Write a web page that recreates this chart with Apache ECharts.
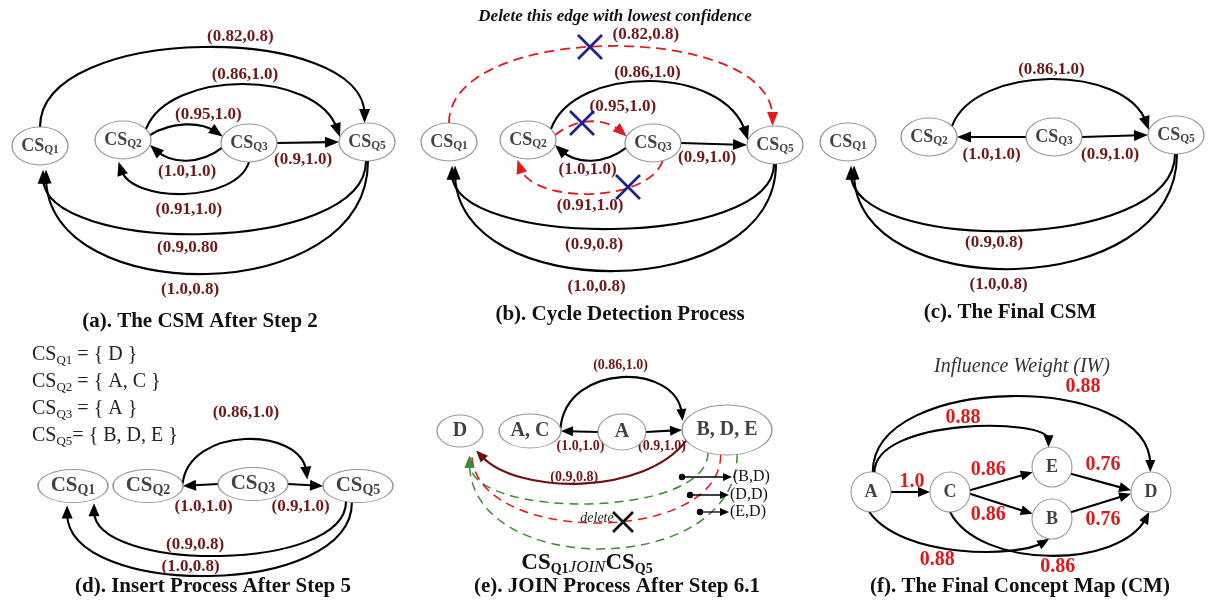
<!DOCTYPE html>
<html><head><meta charset="utf-8">
<script src="https://cdn.jsdelivr.net/npm/echarts@6/dist/echarts.min.js"></script>
<style>html,body{margin:0;padding:0;background:#fff}#c{width:1208px;height:602px}</style>
</head><body><div id="c"></div>
<script>
// ================= DATA =================
// nodes: [id, label, x, y]  (diagram units = hidden axis units)
const nodesA = [['a.Q1','Q1',40,146],['a.Q2','Q2',123,140],['a.Q3','Q3',249,143],['a.Q5','Q5',367,142]];
const nodesB = [['b.Q1','Q1',449,142],['b.Q2','Q2',528,140],['b.Q3','Q3',653,143],['b.Q5','Q5',775,145]];
const nodesC = [['c.Q1','Q1',848,142],['c.Q2','Q2',929,137],['c.Q3','Q3',1054,137],['c.Q5','Q5',1176,135]];
const nodesD = [['d.Q1','Q1',73,486],['d.Q2','Q2',148,486],['d.Q3','Q3',253,484],['d.Q5','Q5',358,486]];
const nodesE = [['e.D','D',460,431],['e.AC','A, C',530,431],['e.A','A',622,432],['e.BDE','B, D, E',727,430]];
const nodesF = [['f.A','A',871,492],['f.C','C',950,492],['f.E','E',1052,467],['f.B','B',1052,519],['f.D','D',1151,492]];

// edges: [from, to, label, kind]
const edgesA = [
  ['a.Q1','a.Q5','(0.82,0.8)','k'],
  ['a.Q2','a.Q5','(0.86,1.0)','k'],
  ['a.Q2','a.Q3','(0.95,1.0)','k'],
  ['a.Q3','a.Q2','(1.0,1.0)','k'],
  ['a.Q3','a.Q2','(0.91,1.0)','k'],
  ['a.Q3','a.Q5','(0.9,1.0)','k'],
  ['a.Q5','a.Q1','(0.9,0.80','k'],
  ['a.Q5','a.Q1','(1.0,0.8)','k']
];
const edgesB = [
  ['b.Q1','b.Q5','(0.82,0.8)','r'],
  ['b.Q2','b.Q5','(0.86,1.0)','k'],
  ['b.Q2','b.Q3','(0.95,1.0)','r'],
  ['b.Q3','b.Q2','(1.0,1.0)','k'],
  ['b.Q3','b.Q2','(0.91,1.0)','r'],
  ['b.Q3','b.Q5','(0.9,1.0)','k'],
  ['b.Q5','b.Q1','(0.9,0.8)','k'],
  ['b.Q5','b.Q1','(1.0,0.8)','k']
];
const edgesC = [
  ['c.Q2','c.Q5','(0.86,1.0)','k'],
  ['c.Q3','c.Q2','(1.0,1.0)','k'],
  ['c.Q3','c.Q5','(0.9,1.0)','k'],
  ['c.Q5','c.Q1','(0.9,0.8)','k'],
  ['c.Q5','c.Q1','(1.0,0.8)','k']
];
const edgesD = [
  ['d.Q2','d.Q5','(0.86,1.0)','k'],
  ['d.Q3','d.Q2','(1.0,1.0)','k'],
  ['d.Q3','d.Q5','(0.9,1.0)','k'],
  ['d.Q5','d.Q1','(0.9,0.8)','k'],
  ['d.Q5','d.Q1','(1.0,0.8)','k']
];
const edgesE = [
  ['e.AC','e.BDE','(0.86,1.0)','k'],
  ['e.A','e.AC','(1.0,1.0)','k'],
  ['e.A','e.BDE','(0.9,1.0)','k'],
  ['e.BDE','e.D','(0.9,0.8)','m'],
  ['e.BDE','e.D','','g'],
  ['e.BDE','e.D','','rn'],
  ['e.BDE','e.D','','g']
];
const edgesF = [
  ['f.A','f.C','1.0','k'],
  ['f.C','f.E','0.86','k'],
  ['f.C','f.B','0.86','k'],
  ['f.E','f.D','0.76','k'],
  ['f.B','f.D','0.76','k'],
  ['f.A','f.E','0.88','k'],
  ['f.A','f.D','0.88','k'],
  ['f.A','f.B','0.88','k'],
  ['f.C','f.D','0.86','k']
];
const pairLabelsE = ['(B,D)','(D,D)','(E,D)'];
const defLabelsD = [['Q1','{ D }'],['Q2','{ A, C }'],['Q3','{ A }'],['Q5','{ B, D, E }']];
const panelTitles = ['(a). The CSM After Step 2','(b). Cycle Detection Process','(c). The Final CSM',
  '(d). Insert Process After Step 5','(e). JOIN Process After Step 6.1','(f). The Final Concept Map (CM)'];

// ================= LAYOUT (geometry / styles) =================
// per edge: [angleFrom, angleTo, scaleTo, bend(y of curve middle or null), labelDx, labelDy, spread]
const geomA = [[90,95,1,48,38,-11],[35,165,1,85,2,-10,0.12],[15,160,1,125,22,-10,0.3],[195,345,1,160,1,12,0.3],
  [270,262,1.15,193,5,17,0.1],[0,180,1,null,-5,17],[268,275,1.25,233,-17,15],[272,280,1.25,273,-17,17]];
const geomB = [[90,95,1,47,35,-12],[35,165,1,82,-2,-9,0.12],[15,160,1,122,32,-15,0.3],[195,345,1,160,-3,10,0.3],
  [290,250,1.1,193,0,13,0.1],[0,180,1,null,-7,14],[268,275,1.25,228,-19,17],[272,280,1.25,270,-19,17]];
const geomC = [[35,165,1,80,1,-10,0.12],[180,0,1,null,0,18],[0,180,1,null,-5,19],[268,275,1.25,230,-19,13],[272,280,1.25,268,-17,17]];
const geomD = [[8,165,1.5,440,1,-27,0.05],[180,0,1,null,3,22],[0,180,1,null,-5,22],[250,300,1.2,555,-25,-10],[260,262,1.2,575,-19,-8]];
const geomE = [[10,160,1.05,378,-1,-13,0.05],[180,0,1,null,1,15],[0,180,1,null,-2,15],[205,300,1.4,483,-7,-6,0.2],
  [245,285,1.6,503,0,0],[262,290,1.5,523,0,0],[283,285,1.6,548,0,0]];
const geomF = [[0,180,1,null,1.5,-10],[5,195,1,null,-13,-11],[-5,165,1,null,-13,11],[-20,175,1,null,2,-17],
  [20,185,1,null,2,17],[80,100,1,428,1.5,-10],[85,92,1,397,71.5,-10],[265,262,1,550,-22,10,0.18],[270,265,1,555,8,12,0.15]];
const pairGeomE = [[682,477,732,477],[690,495,729,495],[700,512,729,512]];
const crosses = [[590,47,12,'#1f1f8f'],[582,123,12,'#1f1f8f'],[628,187,12,'#1f1f8f'],[623,522,10,'#111']];

const FONT = '"Liberation Serif","Times New Roman",serif';
const SIZE = {a:[56,38], b:[56,38], c:[56,38], d:[70,33], f:[40,40]};
const SIZE_E = {'e.D':[46,32],'e.AC':[62,34],'e.A':[48,36],'e.BDE':[90,50]};
const KIND = {
  k:{color:'#000',width:2.1,arrow:true},
  r:{color:'#e3191c',width:1.8,dash:[10,6],arrow:true},
  rn:{color:'#e3191c',width:1.5,dash:[9,6],arrow:false},
  g:{color:'#3d8a33',width:1.5,dash:[9,6],arrow:true},
  m:{color:'#6b1010',width:2.1,arrow:true},
  p:{color:'#000',width:1.3,arrow:true,dot:true}
};
const LABEL = {
  a:{font:'bold 17px '+FONT, fill:'#701818'}, b:{font:'bold 17px '+FONT, fill:'#701818'},
  c:{font:'bold 17px '+FONT, fill:'#701818'}, d:{font:'bold 17px '+FONT, fill:'#701818'},
  e:{font:'bold 14px '+FONT, fill:'#701818'}, f:{font:'bold 20px '+FONT, fill:'#e0191b'}
};
const ARROW = {a:[14,5.5],b:[14,5.5],c:[14,5.5],d:[13,5.5],e:[12,5],f:[12,5]};

// ================= BUILD =================
const allNodes = [].concat(nodesA,nodesB,nodesC,nodesD,nodesE,nodesF);
const nodeMap = {}; allNodes.forEach(n => nodeMap[n[0]] = n);
function sizeOf(id){ return SIZE_E[id] || SIZE[id[0]]; }
function anchor(id, ang, k){
  const n = nodeMap[id], s = sizeOf(id), r = ang*Math.PI/180;
  return [n[2] + k*s[0]/2*Math.cos(r), n[3] - k*s[1]/2*Math.sin(r)];
}
const EDGES = [];
[[edgesA,geomA],[edgesB,geomB],[edgesC,geomC],[edgesD,geomD],[edgesE,geomE],[edgesF,geomF]].forEach(([es,gs]) => {
  es.forEach((e,i) => {
    const g = gs[i];
    EDGES.push({panel:e[0][0], p0:anchor(e[0],g[0],1), p3:anchor(e[1],g[1],g[2]), bend:g[3],
      label:e[2], kind:e[3], ldx:g[4], ldy:g[5], spread:g[6] || 0});
  });
});
pairLabelsE.forEach((t,i) => {
  const g = pairGeomE[i];
  EDGES.push({panel:'e', p0:[g[0],g[1]], p3:[g[2],g[3]], bend:null, label:t, kind:'p', side:true, spread:0});
});

function norm(x,y){ const l = Math.hypot(x,y)||1; return [x/l,y/l]; }

function renderEdge(params, api){
  const e = EDGES[api.value(2)];
  const st = KIND[e.kind];
  const P0 = api.coord(e.p0), P3 = api.coord(e.p3);
  let C1, C2, dir, M;
  if (e.bend == null) {
    dir = norm(P3[0]-P0[0], P3[1]-P0[1]);
    M = [(P0[0]+P3[0])/2, (P0[1]+P3[1])/2];
  } else {
    const yc = (e.bend - (e.p0[1]+e.p3[1])/8)/0.75;
    const dx = e.p3[0]-e.p0[0];
    C1 = api.coord([e.p0[0] + e.spread*dx, yc]); C2 = api.coord([e.p3[0] - e.spread*dx, yc]);
    dir = norm(P3[0]-C2[0], P3[1]-C2[1]);
    M = [(P0[0]+3*C1[0]+3*C2[0]+P3[0])/8, (P0[1]+3*C1[1]+3*C2[1]+P3[1])/8];
  }
  const ar = ARROW[e.panel];
  const L = e.kind === 'p' ? 9 : ar[0], HW = e.kind === 'p' ? 4 : ar[1];
  const cut = st.arrow ? L*0.6 : 0;
  const E = [P3[0]-dir[0]*cut, P3[1]-dir[1]*cut];
  const ls = {stroke:st.color, lineWidth:st.width, fill:null, lineDash:st.dash || null};
  const ch = [];
  if (e.bend == null) ch.push({type:'line', shape:{x1:P0[0],y1:P0[1],x2:E[0],y2:E[1]}, style:ls});
  else ch.push({type:'bezierCurve', shape:{x1:P0[0],y1:P0[1],cpx1:C1[0],cpy1:C1[1],cpx2:C2[0],cpy2:C2[1],x2:E[0],y2:E[1]}, style:ls});
  if (st.arrow) {
    const n = [-dir[1], dir[0]];
    const bx = P3[0]-dir[0]*L, by = P3[1]-dir[1]*L;
    ch.push({type:'polygon', shape:{points:[[P3[0],P3[1]],[bx+n[0]*HW,by+n[1]*HW],[bx-n[0]*HW,by-n[1]*HW]]}, style:{fill:st.color}});
  }
  if (st.dot) ch.push({type:'circle', shape:{cx:P0[0],cy:P0[1],r:3.2}, style:{fill:'#000'}});
  if (e.label) {
    if (e.side) ch.push({type:'text', x:P3[0]+1, y:P3[1], style:{text:e.label, font:'16px '+FONT, fill:'#111', align:'left', verticalAlign:'middle'}});
    else ch.push({type:'text', x:M[0]+e.ldx, y:M[1]+e.ldy, style:{text:e.label, font:LABEL[e.panel].font, fill:LABEL[e.panel].fill, align:'center', verticalAlign:'middle'}});
  }
  return {type:'group', children:ch};
}

function renderCross(params, api){
  const p = api.coord([api.value(0), api.value(1)]);
  const c = crosses[api.value(2)];
  const s = c[2];
  return {type:'group', children:[
    {type:'line', shape:{x1:p[0]-s,y1:p[1]-s,x2:p[0]+s,y2:p[1]+s}, style:{stroke:c[3], lineWidth:2.6}},
    {type:'line', shape:{x1:p[0]-s,y1:p[1]+s,x2:p[0]+s,y2:p[1]-s}, style:{stroke:c[3], lineWidth:2.6}}
  ]};
}

const ELLIPSE = 'path://M50,0 C77.6,0 100,22.4 100,50 C100,77.6 77.6,100 50,100 C22.4,100 0,77.6 0,50 C0,22.4 22.4,0 50,0 Z';
const nodeData = allNodes.map(n => {
  const p = n[0][0];
  let fmt;
  if (p === 'd') fmt = '{md|CS}{sd|' + n[1] + '}';
  else if (p === 'e') fmt = '{ne|' + n[1] + '}';
  else if (p === 'f') fmt = '{nf|' + n[1] + '}';
  else fmt = '{m|CS}{s|' + n[1] + '}';
  return {value:[n[2], n[3]], symbolSize:sizeOf(n[0]), label:{formatter:fmt}};
});

const graphics = [];
const titlePos = [[200,322],[620,315],[1010,313],[213,587],[617,587],[1020,587]];
panelTitles.forEach((t,i) => graphics.push({type:'text', x:titlePos[i][0], y:titlePos[i][1],
  style:{text:t, font:'bold 21px '+FONT, fill:'#111', align:'center', verticalAlign:'middle'}}));
graphics.push({type:'text', x:615, y:17, style:{text:'Delete this edge with lowest confidence', font:'italic bold 17px '+FONT, fill:'#111', align:'center', verticalAlign:'middle'}});
graphics.push({type:'text', x:1022, y:367, style:{text:'Influence Weight (IW)', font:'italic 20px '+FONT, fill:'#333', align:'center', verticalAlign:'middle'}});
graphics.push({type:'text', x:597, y:518, style:{text:'delete', font:'italic 14px '+FONT, fill:'#222', align:'center', verticalAlign:'middle'}});
const defY = [355,382,409,436];
defLabelsD.forEach((d,i) => graphics.push({type:'text', x:32, y:defY[i], style:{
  text:'{c|CS}{q|' + d[0] + '}' + (i===3 ? '= ' : ' = ') + d[1], align:'left', verticalAlign:'middle',
  font:'20px '+FONT, fill:'#222',
  rich:{c:{font:'20px '+FONT, fill:'#222', lineHeight:24, verticalAlign:'middle'},
        q:{font:'13px '+FONT, fill:'#222', lineHeight:12, verticalAlign:'bottom'}}}}));
graphics.push({type:'text', x:587, y:563, style:{
  text:'{c|CS}{q|Q1}{j|JOIN}{c|CS}{q|Q5}', align:'center', verticalAlign:'middle',
  rich:{c:{font:'bold 23px '+FONT, fill:'#111', lineHeight:26, verticalAlign:'middle'},
        q:{font:'bold 14px '+FONT, fill:'#111', lineHeight:13, verticalAlign:'bottom'},
        j:{font:'italic 17px '+FONT, fill:'#111', lineHeight:19, verticalAlign:'bottom'}}}});

const chart = echarts.init(document.getElementById('c'));
chart.setOption({
  animation:false,
  backgroundColor:'#fff',
  grid:{left:0,right:0,top:0,bottom:0},
  xAxis:{type:'value', min:0, max:1208, show:false},
  yAxis:{type:'value', min:0, max:602, inverse:true, show:false},
  graphic:graphics,
  series:[
    {type:'custom', coordinateSystem:'cartesian2d', renderItem:renderEdge, silent:true, z:2,
      encode:{x:0,y:1}, data:EDGES.map((e,i) => [e.p0[0], e.p0[1], i])},
    {type:'scatter', symbol:ELLIPSE, silent:true, z:3,
      itemStyle:{color:'#fff', borderColor:'#808080', borderWidth:1.1},
      label:{show:true, position:'inside', color:'#111', rich:{
        m:{fontFamily:FONT, fontWeight:'bold', fontSize:18, lineHeight:20, verticalAlign:'middle', color:'#111'},
        s:{fontFamily:FONT, fontWeight:'bold', fontSize:11.5, lineHeight:10, verticalAlign:'bottom', color:'#111'},
        md:{fontFamily:FONT, fontWeight:'bold', fontSize:21, lineHeight:22, verticalAlign:'middle', color:'#111'},
        sd:{fontFamily:FONT, fontWeight:'bold', fontSize:14, lineHeight:12, verticalAlign:'bottom', color:'#111'},
        ne:{fontFamily:FONT, fontWeight:'bold', fontSize:20, color:'#111'},
        nf:{fontFamily:FONT, fontWeight:'bold', fontSize:18, color:'#111'}
      }},
      data:nodeData},
    {type:'custom', coordinateSystem:'cartesian2d', renderItem:renderCross, silent:true, z:5,
      encode:{x:0,y:1}, data:crosses.map((c,i) => [c[0], c[1], i])}
  ]
});
</script>
</body></html>
